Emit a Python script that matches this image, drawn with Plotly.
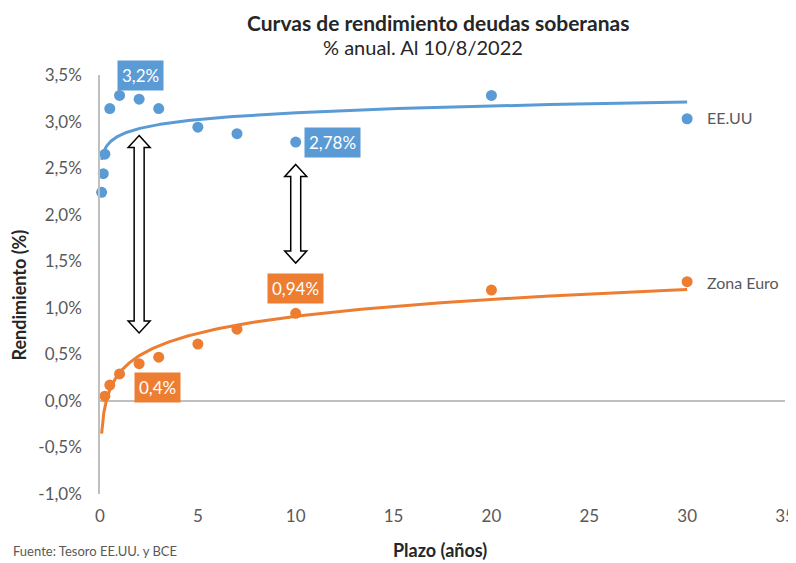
import numpy as np
import plotly.graph_objects as go

# ---- data ----
us_plazo = [1/12, 2/12, 0.25, 0.5, 1, 2, 3, 5, 7, 10, 20, 30]
us_rend = [2.24, 2.44, 2.65, 3.14, 3.28, 3.24, 3.14, 2.94, 2.87, 2.78, 3.28, 3.03]
eu_plazo = [0.25, 0.5, 1, 2, 3, 5, 7, 10, 20, 30]
eu_rend = [0.05, 0.17, 0.29, 0.40, 0.47, 0.61, 0.77, 0.94, 1.19, 1.28]
y_ticks = [-1.0, -0.5, 0.0, 0.5, 1.0, 1.5, 2.0, 2.5, 3.0, 3.5]
y_tick_labels = ["-1,0%", "-0,5%", "0,0%", "0,5%", "1,0%", "1,5%", "2,0%", "2,5%", "3,0%", "3,5%"]
x_ticks = [0, 5, 10, 15, 20, 25, 30, 35]

BLUE = "#5B9BD5"
ORANGE = "#ED7D31"
FONT = "Lato"
GRAY = "#595959"
DARK = "#262626"


def log_trend(x, y, x0, x1):
    b, a = np.polyfit(np.log(x), y, 1)
    xs = np.geomspace(x0, x1, 200)
    return xs, a + b * np.log(xs)


fig = go.Figure()
for px_, py_, col in [(us_plazo, us_rend, BLUE), (eu_plazo, eu_rend, ORANGE)]:
    tx, ty = log_trend(np.array(px_), np.array(py_), 1/12, 30)
    fig.add_trace(go.Scatter(x=tx, y=ty, mode="lines", line=dict(color=col, width=3),
                             hoverinfo="skip", showlegend=False, cliponaxis=False))
    fig.add_trace(go.Scatter(x=px_, y=py_, mode="markers",
                             marker=dict(color=col, size=11), showlegend=False, cliponaxis=False))

# double arrows (px -> data units)
XU = 35 / 685.5
YU = 4.5 / 419


def dbl_arrow(c, t, b, hw=11, sw=5, hl=12):
    hw *= XU; sw *= XU; hl *= YU
    pts = [(c, t), (c + hw, t - hl), (c + sw, t - hl), (c + sw, b + hl), (c + hw, b + hl), (c, b),
           (c - hw, b + hl), (c - sw, b + hl), (c - sw, t - hl), (c - hw, t - hl)]
    return "M " + " L ".join(f"{x},{y}" for x, y in pts) + " Z"


for c, t, b in [(2, 2.85, 0.73), (10, 2.54, 1.48)]:
    fig.add_shape(type="path", path=dbl_arrow(c, t, b), xref="x", yref="y",
                  line=dict(color="#000000", width=1.5), fillcolor="white", layer="above")

# value labels
for x, y, txt, col in [(2.07, 3.49, "3,2%", BLUE), (11.9, 2.77, "2,78%", BLUE),
                       (10, 1.21, "0,94%", ORANGE), (2.93, 0.14, "0,4%", ORANGE)]:
    fig.add_annotation(x=x, y=y, text=txt, showarrow=False, bgcolor=col, borderpad=4,
                       font=dict(family=FONT, size=17, color="white"))

for y, txt in [(3.04, "EE.UU"), (1.27, "Zona Euro")]:
    fig.add_annotation(x=30.9, y=y, text=txt, showarrow=False, xanchor="left",
                       font=dict(family=FONT, size=16, color=GRAY))

# titles
fig.add_annotation(xref="paper", yref="paper", x=0.494, y=1, yshift=53, yanchor="middle",
                   text="<b>Curvas de rendimiento deudas soberanas</b>",
                   showarrow=False, font=dict(family=FONT, size=21, color=DARK))
fig.add_annotation(xref="paper", yref="paper", x=0.472, y=1, yshift=28, yanchor="middle",
                   text="% anual. Al 10/8/2022",
                   showarrow=False, font=dict(family=FONT, size=20, color=DARK))
fig.add_annotation(xref="paper", yref="paper", x=0.497, y=0, yshift=-56, yanchor="middle",
                   text="<b>Plazo (años)</b>", showarrow=False,
                   font=dict(family=FONT, size=18, color=DARK))
fig.add_annotation(xref="paper", yref="paper", x=0, xshift=-81.5, xanchor="center", y=0.475,
                   text="<b>Rendimiento (%)</b>", textangle=-90, showarrow=False,
                   font=dict(family=FONT, size=18, color=DARK))
fig.add_annotation(xref="paper", yref="paper", x=0, xshift=-89, xanchor="left", y=0, yshift=-67,
                   yanchor="bottom", text="Fuente: Tesoro EE.UU. y BCE", showarrow=False,
                   font=dict(family=FONT, size=13, color=GRAY))

# page body has an 8px margin: figure is drawn from (8, 8)
fig.update_layout(
    width=788, height=555,
    margin=dict(l=91.5, r=11, t=67, b=69),
    paper_bgcolor="white", plot_bgcolor="white",
    font=dict(family=FONT, color=GRAY),
    xaxis=dict(range=[0, 35], tickvals=x_ticks, showgrid=False, zeroline=False, showline=False,
               ticks="", ticklabelstandoff=10, ticklabeloverflow="allow",
               tickfont=dict(size=17, color=GRAY), automargin=False),
    yaxis=dict(range=[-1, 3.5], tickvals=y_ticks, ticktext=y_tick_labels,
               showgrid=False, zeroline=True, zerolinecolor="#BFBFBF", zerolinewidth=1.5,
               showline=True, linecolor="#BFBFBF", linewidth=1.5, ticks="",
               ticklabelstandoff=13, ticklabeloverflow="allow",
               tickfont=dict(size=17, color=GRAY), automargin=False),
)
fig.write_html("out.html")
